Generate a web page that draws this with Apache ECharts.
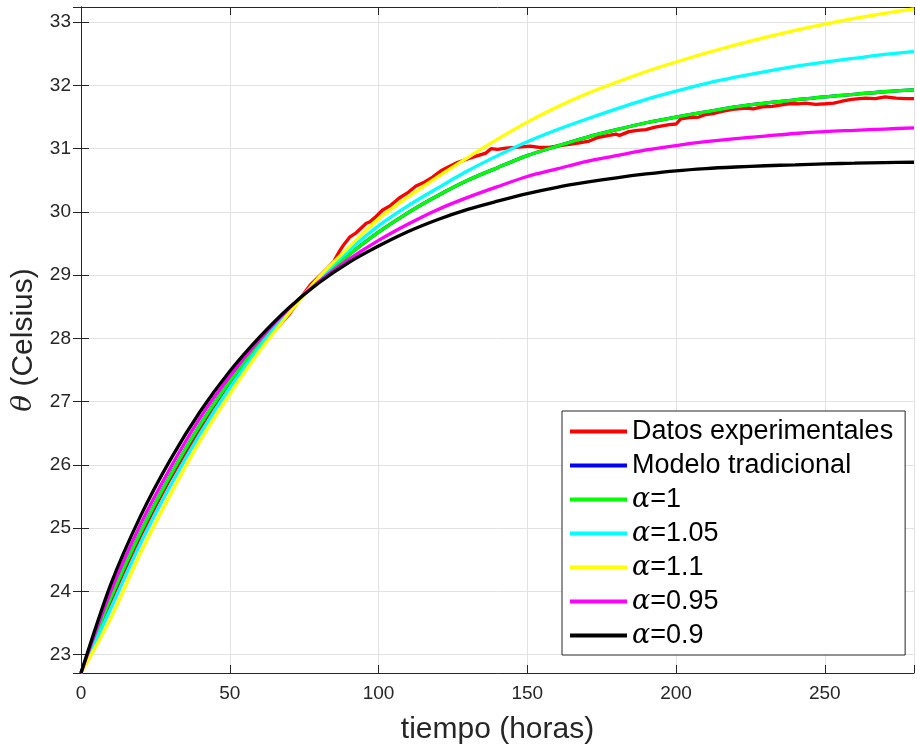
<!DOCTYPE html>
<html>
<head>
<meta charset="utf-8">
<script src="https://cdn.jsdelivr.net/npm/echarts@6/dist/echarts.min.js"></script>
<style>
html,body{margin:0;padding:0;background:#fff;}
#chart{width:917px;height:750px;}
</style>
</head>
<body>
<div id="chart"></div>
<script>
// ---- data ----
const tHours = [0,10,20,30,40,50,60,70,80,90,100,110,120,130,140,150,160,170,180,190,200,210,220,230,240,250,260,270,280];

const modeloTradicional = [22.71,23.89,24.93,25.83,26.63,27.32,27.93,28.46,28.92,29.32,29.68,29.99,30.26,30.50,30.70,30.89,31.04,31.18,31.30,31.41,31.50,31.58,31.66,31.72,31.77,31.82,31.86,31.90,31.93];
const alpha100 = [22.71,23.89,24.93,25.83,26.63,27.32,27.93,28.46,28.92,29.32,29.68,29.99,30.26,30.50,30.70,30.89,31.04,31.18,31.30,31.41,31.50,31.58,31.66,31.72,31.77,31.82,31.86,31.90,31.93];
const alpha105 = [22.71,23.73,24.76,25.67,26.49,27.22,27.87,28.44,28.94,29.39,29.78,30.10,30.38,30.65,30.89,31.11,31.30,31.47,31.63,31.78,31.91,32.03,32.13,32.22,32.30,32.37,32.43,32.49,32.54];
const alpha110 = [22.71,23.58,24.61,25.53,26.38,27.12,27.80,28.40,28.97,29.44,29.89,30.24,30.56,30.86,31.15,31.42,31.66,31.87,32.05,32.22,32.37,32.51,32.64,32.76,32.87,32.97,33.06,33.14,33.21];
const alpha095 = [22.71,24.00,25.06,25.95,26.74,27.40,27.98,28.48,28.90,29.25,29.55,29.81,30.04,30.23,30.40,30.56,30.68,30.80,30.89,30.98,31.05,31.11,31.16,31.20,31.24,31.27,31.29,31.31,31.33];
const alpha090 = [22.71,24.11,25.19,26.08,26.84,27.48,28.02,28.49,28.88,29.20,29.46,29.69,29.88,30.04,30.17,30.29,30.39,30.47,30.54,30.60,30.65,30.685,30.71,30.73,30.745,30.76,30.77,30.78,30.785];

const expT = [0,5,10,15,20,25,30,35,40,45,50,55,60,65,70,73.5,77,80.2,83,85,86.9,88,90.3,92.5,95.9,97,99,101.4,104,107,110,112.6,115,118.2,121,123.8,126.5,129.4,132,136.1,137.8,140,142.8,146,151,154,157.4,161,164.1,167.5,170.8,174,177.5,179.8,181,184.2,187,189.8,193,197.7,200,201.6,204.4,207.7,210,213,215.5,219,223.4,226,228.9,232.3,235,237.9,241,243.5,247,250.2,253,255.8,259,263.6,267,270.3,274,277,280];
const expY = [22.71,23.32,23.84,24.36,24.87,25.34,25.78,26.18,26.56,26.91,27.25,27.56,27.86,28.12,28.38,28.62,28.84,28.99,29.12,29.22,29.38,29.46,29.60,29.67,29.82,29.84,29.92,30.03,30.10,30.22,30.31,30.41,30.46,30.55,30.65,30.72,30.78,30.83,30.87,30.93,31.00,30.99,31.01,31.02,31.04,31.02,31.02,31.05,31.07,31.09,31.12,31.18,31.21,31.23,31.21,31.27,31.29,31.30,31.34,31.38,31.39,31.47,31.49,31.50,31.54,31.56,31.59,31.62,31.64,31.63,31.66,31.67,31.69,31.71,31.71,31.72,31.70,31.71,31.72,31.75,31.78,31.80,31.79,31.82,31.80,31.79,31.79];

const seriesNames = ['Datos experimentales','Modelo tradicional','α=1','α=1.05','α=1.1','α=0.95','α=0.9'];
const seriesColors = ['#ff0000','#0000ff','#00ff00','#00ffff','#ffff00','#ff00ff','#000000'];
const xTickStep = 50;
const yTickStep = 1;

// ---- build ----
const pairs = (xs, ys) => xs.map((x, i) => [x, ys[i]]);
const curves = [pairs(expT, expY), pairs(tHours, modeloTradicional), pairs(tHours, alpha100),
  pairs(tHours, alpha105), pairs(tHours, alpha110), pairs(tHours, alpha095), pairs(tHours, alpha090)];

const axisColor = '#262626';
const gridColor = '#e2e2e2';
const FONT = '"Liberation Sans", Arial, Helvetica, sans-serif';

const isMult = (v, s) => Math.abs(v / s - Math.round(v / s)) < 1e-6;

const chart = echarts.init(document.getElementById('chart'), null, {renderer: 'canvas'});
chart.setOption({
  animation: false,
  backgroundColor: '#ffffff',
  grid: {left: 81, right: 1, top: 7, bottom: 75, containLabel: false},
  xAxis: [{
    type: 'value', min: 0, max: 280, splitNumber: 5,
    name: 'tiempo (horas)', nameLocation: 'middle', nameGap: 42,
    nameTextStyle: {fontFamily: FONT, fontSize: 30, color: axisColor},
    axisLine: {show: true, lineStyle: {color: axisColor, width: 1}},
    axisTick: {show: true, inside: true, length: 8, lineStyle: {color: axisColor}},
    axisLabel: {fontFamily: FONT, fontSize: 19, color: axisColor, margin: 11,
      formatter: v => isMult(v, xTickStep) ? String(Math.round(v)) : ''},
    splitLine: {show: true, lineStyle: {color: gridColor, width: 1}}
  }, {
    type: 'value', min: 0, max: 280, splitNumber: 5, position: 'top',
    axisLine: {show: true, lineStyle: {color: axisColor, width: 1}},
    axisTick: {show: true, inside: true, length: 8, lineStyle: {color: axisColor}},
    axisLabel: {show: false}, splitLine: {show: false}
  }],
  yAxis: [{
    type: 'value', min: 22.71, max: 33.24, splitNumber: 10,
    name: '{i|θ} (Celsius)', nameLocation: 'middle', nameGap: 36,
    nameTextStyle: {fontFamily: FONT, fontSize: 30, color: axisColor,
      rich: {i: {fontFamily: '"DejaVu Serif", "Liberation Serif", serif', fontStyle: 'italic', fontSize: 28, color: axisColor}}},
    axisLine: {show: true, lineStyle: {color: axisColor, width: 1}},
    axisTick: {show: true, inside: true, length: 8, lineStyle: {color: axisColor}},
    axisLabel: {fontFamily: FONT, fontSize: 19, color: axisColor, margin: 10,
      formatter: v => isMult(v, yTickStep) ? String(Math.round(v)) : ''},
    splitLine: {show: true, lineStyle: {color: gridColor, width: 1}}
  }, {
    type: 'value', min: 22.71, max: 33.24, splitNumber: 10, position: 'right',
    axisLine: {show: true, lineStyle: {color: axisColor, width: 1}},
    axisTick: {show: true, inside: true, length: 8, lineStyle: {color: axisColor}},
    axisLabel: {show: false}, splitLine: {show: false}
  }],
  legend: {
    orient: 'vertical', left: 562, top: 411,
    padding: [7, 12, 6, 8],
    itemWidth: 57, itemHeight: 4, itemGap: 7, icon: 'rect',
    backgroundColor: '#ffffff', borderColor: axisColor, borderWidth: 1, borderRadius: 0,
    data: seriesNames,
    formatter: name => name.charAt(0) === 'α' ? '{a|α}' + name.slice(1) : name,
    textStyle: {fontFamily: FONT, fontSize: 27, color: '#000', lineHeight: 27,
      rich: {a: {fontFamily: '"DejaVu Serif", "Liberation Serif", serif', fontStyle: 'italic', fontSize: 27, color: '#000', lineHeight: 27}}}
  },
  series: curves.map((d, i) => ({
    name: seriesNames[i], type: 'line', data: d,
    xAxisIndex: 0, yAxisIndex: 0,
    showSymbol: false, symbol: 'none',
    smooth: i === 0 ? false : 0.3,
    lineStyle: {color: seriesColors[i], width: 3.3},
    itemStyle: {color: seriesColors[i]},
    clip: true
  }))
});
</script>
</body>
</html>
